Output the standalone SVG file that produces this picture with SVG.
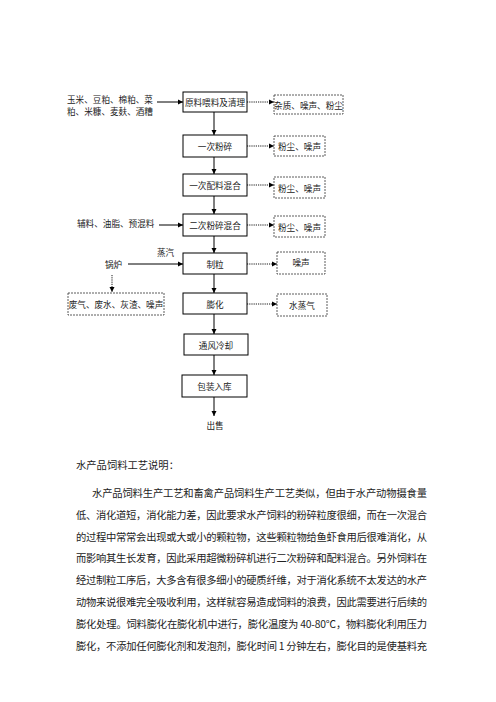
<svg xmlns="http://www.w3.org/2000/svg" width="496" height="702" viewBox="0 0 496 702">
<style>
text{font-family:"Noto Sans CJK SC","Noto Sans CJK JP",sans-serif;fill:#222;}
.t{font-size:8.6px;text-anchor:middle;dominant-baseline:central;}
.l{font-size:8.6px;dominant-baseline:central;}
.box{fill:#fff;stroke:#000;stroke-width:1;}
.dbox{fill:#fff;stroke:#333;stroke-width:0.8;stroke-dasharray:2 1;}
.s{stroke:#000;stroke-width:1;fill:none;}
.d{stroke:#000;stroke-width:0.9;fill:none;stroke-dasharray:1.2 1;}
.p{font-size:10.3px;}
</style>
<defs>
<marker id="ah" markerWidth="6" markerHeight="6" refX="5" refY="3" orient="auto" markerUnits="userSpaceOnUse">
<path d="M0,0.5 L5,3 L0,5.5 Z" fill="#000"/>
</marker>
</defs>
<g id="connectors">
<line class="s" x1="214" y1="112" x2="214" y2="135" marker-end="url(#ah)"/>
<line class="s" x1="214" y1="157" x2="214" y2="174" marker-end="url(#ah)"/>
<line class="s" x1="214" y1="196" x2="214" y2="214" marker-end="url(#ah)"/>
<line class="s" x1="214" y1="236" x2="214" y2="253" marker-end="url(#ah)"/>
<line class="s" x1="214" y1="274" x2="214" y2="293" marker-end="url(#ah)"/>
<line class="s" x1="214" y1="314" x2="214" y2="334" marker-end="url(#ah)"/>
<line class="s" x1="214" y1="355" x2="214" y2="375" marker-end="url(#ah)"/>
<line class="s" x1="214" y1="397" x2="214" y2="416" marker-end="url(#ah)"/>
<line class="s" x1="157" y1="102" x2="183" y2="102" marker-end="url(#ah)"/>
<line class="s" x1="159" y1="225" x2="183" y2="225" marker-end="url(#ah)"/>
<line class="s" x1="128" y1="264" x2="183" y2="264" marker-end="url(#ah)"/>
<line class="d" x1="247" y1="102" x2="274" y2="102" marker-end="url(#ah)"/>
<line class="d" x1="247" y1="146" x2="274" y2="146" marker-end="url(#ah)"/>
<line class="d" x1="247" y1="185" x2="274" y2="185" marker-end="url(#ah)"/>
<line class="d" x1="247" y1="225" x2="274" y2="225" marker-end="url(#ah)"/>
<line class="d" x1="247" y1="264" x2="277" y2="264" marker-end="url(#ah)"/>
<line class="d" x1="247" y1="304" x2="277" y2="304" marker-end="url(#ah)"/>
<line class="d" x1="112" y1="275" x2="112" y2="292" marker-end="url(#ah)"/>
</g>
<g id="n1"><rect class="box" x="183" y="92" width="64" height="20"/><text class="t" x="215" y="102">原料喂料及清理</text></g>
<g id="n2"><rect class="box" x="183" y="135" width="64" height="22"/><text class="t" x="215" y="146">一次粉碎</text></g>
<g id="n3"><rect class="box" x="183" y="174" width="64" height="22"/><text class="t" x="215" y="185">一次配料混合</text></g>
<g id="n4"><rect class="box" x="183" y="214" width="64" height="22"/><text class="t" x="215" y="225">二次粉碎混合</text></g>
<g id="n5"><rect class="box" x="183" y="253" width="64" height="21"/><text class="t" x="215" y="263.5">制粒</text></g>
<g id="n6"><rect class="box" x="183" y="293" width="64" height="21"/><text class="t" x="215" y="303.5">膨化</text></g>
<g id="n7"><rect class="box" x="184" y="334" width="64" height="21"/><text class="t" x="216" y="344.5">通风冷却</text></g>
<g id="n8"><rect class="box" x="182" y="375" width="65" height="22"/><text class="t" x="214.5" y="386">包装入库</text></g>
<g id="n9"><text class="t" x="215" y="425">出售</text></g>
<g id="r1"><rect class="dbox" x="274" y="95" width="69" height="19"/><text class="t" x="308.5" y="104.5">杂质、噪声、粉尘</text></g>
<g id="r2"><rect class="dbox" x="274" y="136" width="51" height="20"/><text class="t" x="299.5" y="146">粉尘、噪声</text></g>
<g id="r3"><rect class="dbox" x="274" y="177" width="51" height="21"/><text class="t" x="299.5" y="187.5">粉尘、噪声</text></g>
<g id="r4"><rect class="dbox" x="274" y="216" width="51" height="21"/><text class="t" x="299.5" y="226.5">粉尘、噪声</text></g>
<g id="r5"><rect class="dbox" x="277" y="252" width="48" height="22"/><text class="t" x="301" y="262">噪声</text></g>
<g id="r6"><rect class="dbox" x="277" y="294" width="50" height="22"/><text class="t" x="302" y="305">水蒸气</text></g>
<g id="in1"><text class="l" x="67" y="99">玉米、豆粕、棉粕、菜</text><text class="l" x="67" y="111">粕、米糠、麦麸、酒糟</text></g>
<g id="in2"><text class="l" x="77" y="223">辅料、油脂、预混料</text></g>
<g id="in3"><text class="l" x="157" y="252">蒸汽</text></g>
<g id="boiler"><text class="l" x="105" y="264">锅炉</text></g>
<g id="waste"><rect class="dbox" x="68" y="293" width="96" height="22"/><text class="t" x="116" y="304">废气、废水、灰渣、噪声</text></g>
<g id="desc">
<text class="p" x="76" y="469">水产品饲料工艺说明：</text>
<text class="p" x="92" y="497" textLength="335" lengthAdjust="spacing">水产品饲料生产工艺和畜禽产品饲料生产工艺类似，但由于水产动物摄食量</text>
<text class="p" x="76" y="518.8" textLength="351" lengthAdjust="spacing">低、消化道短，消化能力差，因此要求水产饲料的粉碎粒度很细，而在一次混合</text>
<text class="p" x="76" y="540.6" textLength="351" lengthAdjust="spacing">的过程中常常会出现或大或小的颗粒物，这些颗粒物给鱼虾食用后很难消化，从</text>
<text class="p" x="76" y="562.4" textLength="351" lengthAdjust="spacing">而影响其生长发育，因此采用超微粉碎机进行二次粉碎和配料混合。另外饲料在</text>
<text class="p" x="76" y="584.2" textLength="351" lengthAdjust="spacing">经过制粒工序后，大多含有很多细小的硬质纤维，对于消化系统不太发达的水产</text>
<text class="p" x="76" y="606" textLength="351" lengthAdjust="spacing">动物来说很难完全吸收利用，这样就容易造成饲料的浪费，因此需要进行后续的</text>
<text class="p" x="76" y="627.8" textLength="351" lengthAdjust="spacing">膨化处理。饲料膨化在膨化机中进行，膨化温度为 40-80℃，物料膨化利用压力</text>
<text class="p" x="76" y="649.6" textLength="351" lengthAdjust="spacing">膨化，不添加任何膨化剂和发泡剂，膨化时间 1 分钟左右，膨化目的是使基料充</text>
</g>
</svg>
